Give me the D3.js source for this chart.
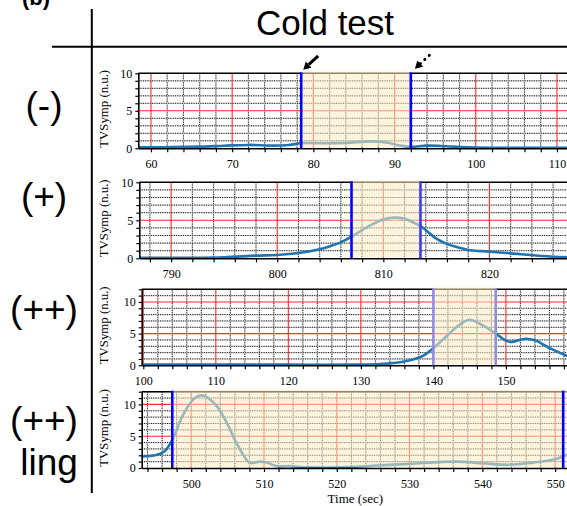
<!DOCTYPE html>
<html>
<head>
<meta charset="utf-8">
<script src="https://cdn.jsdelivr.net/npm/d3@7"></script>
<style>
  html, body { margin: 0; padding: 0; background: #fff; }
  svg { display: block; }
</style>
</head>
<body>
<svg id="fig" width="567" height="506"></svg>
<script>
// ---- data -------------------------------------------------------------
const figureTag = "(b)";
const titleText = "Cold test";
const rowLabels = [["(-)"], ["(+)"], ["(++)"], ["(++)", "ling"]];
const yLabel = "TVSymp (n.u.)";
const xLabel = "Time (sec)";

// (-) response
const noneTime  = [58.4, 62, 66, 69, 72, 75, 77, 78.5, 81, 84, 87, 89, 90.7, 92, 94, 96.4, 98, 100, 105, 111.6];
const noneValue = [0.12, 0.15, 0.22, 0.35, 0.45, 0.36, 0.45, 0.68, 0.68, 0.72, 0.92, 0.78, 0.36, 0.2, 0.36, 0.27, 0.18, 0.1, 0.08, 0.08];
const noneWindow = [58.44, 111.48];
const noneCues = [78.5, 92];

// (+) response
const plusTime  = [787, 792, 795, 798, 800, 802, 804, 805, 806, 807, 808, 809, 810, 811, 812, 813, 813.5, 815, 816, 817, 818, 820, 822, 825, 827.6];
const plusValue = [0.05, 0.07, 0.13, 0.35, 0.44, 0.7, 1.2, 1.6, 2.1, 2.85, 3.7, 4.5, 5.1, 5.35, 5.2, 4.6, 4.25, 2.6, 1.9, 1.45, 1.1, 0.88, 0.65, 0.3, 0.1];
const plusWindow = [787.0, 827.5];
const plusCues = [807, 813.5];

// (++) response
const strongTime  = [99.7, 110, 120, 130, 132, 134, 136.8, 138.4, 140, 141.8, 143.6, 145, 146.8, 148.6, 150, 150.9, 152.7, 154.1, 155.9, 158.8];
const strongValue = [0.1, 0.1, 0.1, 0.1, 0.15, 0.3, 0.8, 1.4, 2.7, 4.6, 6.4, 7.2, 6.3, 5.0, 3.9, 3.7, 4.2, 3.9, 2.8, 1.3];
const strongWindow = [99.78, 158.7];
const strongCues = [140, 148.6];

// (++) ling response
const lingTime  = [493.1, 495.2, 496.3, 497.4, 498.9, 500.5, 501.6, 503.4, 504.8, 506.1, 507.3, 508, 509.4, 510.4, 511.7, 513.5, 516.2, 520, 525, 530, 536.4, 540, 543.7, 546.9, 550.1, 552];
const lingValue = [1.8, 2.05, 2.6, 4.4, 8.4, 11.0, 11.4, 9.9, 7.3, 4.2, 1.8, 0.8, 1.0, 0.85, 0.3, 0.3, 0.1, 0.1, 0.35, 0.65, 1.0, 0.75, 0.5, 0.85, 1.4, 2.3];
const lingWindow = [493.2, 551.9];
const lingCues = [497.4, 551.1];

const yMaxes = [10, 10, 12, 12];
const yLabelTicks = [0, 5, 10];

// ---- drawing ----------------------------------------------------------
const svg = d3.select("#fig");
const sans = "'Liberation Sans', Arial, sans-serif";
const serif = "'Liberation Serif', 'Times New Roman', serif";

const series = [
  { time: noneTime,   value: noneValue,   win: noneWindow,   cues: noneCues,   shadeTo: noneCues[1] },
  { time: plusTime,   value: plusValue,   win: plusWindow,   cues: plusCues,   shadeTo: plusCues[1] },
  { time: strongTime, value: strongValue, win: strongWindow, cues: strongCues, shadeTo: strongCues[1] },
  { time: lingTime,   value: lingValue,   win: lingWindow,   cues: lingCues,   shadeTo: lingWindow[1] + 2 }
];
const frames = [
  { left: 138.3, top: 73.3,  bottom: 148.3 },
  { left: 139.3, top: 182.3, bottom: 258.3 },
  { left: 141.7, top: 289.3, bottom: 365.3 },
  { left: 141.7, top: 391.7, bottom: 468.0 }
];
const cueColors = [
  ["#0000ff", "#0000ff"],
  ["#0000ff", "#3c3cf2"],
  ["#908ce2", "#908ce2"],
  ["#0000ff", "#0000ff"]
];
const rightEdge = 569;

// figure tag, title and separators
svg.append("text").attr("x", 22).attr("y", 5)
  .attr("font-family", sans).attr("font-weight", "bold").attr("font-size", 22)
  .text(figureTag);
svg.append("text").attr("x", 325).attr("y", 34.5).attr("text-anchor", "middle")
  .attr("font-family", sans).attr("font-size", 35).text(titleText);
svg.append("line").attr("x1", 52).attr("x2", 567).attr("y1", 46.8).attr("y2", 46.8)
  .attr("stroke", "#000").attr("stroke-width", 2);
svg.append("line").attr("x1", 91.8).attr("x2", 91.8).attr("y1", 9).attr("y2", 493)
  .attr("stroke", "#000").attr("stroke-width", 2);

// row labels
const rowBase = [[117.5], [209], [322], [433, 475]];
const rowCx = [[44], [44], [44], [44, 49]];
rowLabels.forEach((lines, i) => {
  lines.forEach((t, j) => {
    svg.append("text").attr("x", rowCx[i][j]).attr("y", rowBase[i][j])
      .attr("text-anchor", "middle").attr("font-family", sans).attr("font-size", 37)
      .text(t);
  });
});

series.forEach((s, i) => {
  const f = frames[i];
  const yMax = yMaxes[i];
  const x = d3.scaleLinear().domain(s.win).range([f.left, rightEdge]);
  const y = d3.scaleLinear().domain([0, yMax]).range([f.bottom, f.top]);
  const g = svg.append("g");

  const clipId = "clip" + i;
  svg.append("clipPath").attr("id", clipId).append("rect")
    .attr("x", f.left).attr("y", f.top).attr("width", rightEdge - f.left).attr("height", f.bottom - f.top);

  const xMinor = d3.range(Math.ceil(s.win[0] / 2) * 2, s.win[1] + 0.01, 2);
  const xMajor = xMinor.filter(v => v % 10 === 0);
  const yMinor = d3.range(1, yMax + 0.01, 1).filter(v => v % 5 !== 0);
  const yMajor = d3.range(5, yMax + 0.01, 5);

  const grid = g.append("g").attr("clip-path", `url(#${clipId})`);
  // minor grid: faint solid line under a dotted black line
  xMinor.filter(v => v % 10 !== 0).forEach(v => {
    grid.append("line").attr("x1", x(v)).attr("x2", x(v)).attr("y1", f.top).attr("y2", f.bottom)
      .attr("stroke", "#cfcfcf").attr("stroke-width", 1.2);
    grid.append("line").attr("x1", x(v)).attr("x2", x(v)).attr("y1", f.top).attr("y2", f.bottom)
      .attr("stroke", "#111").attr("stroke-width", 1).attr("stroke-dasharray", "1,1.3");
  });
  yMinor.forEach(v => {
    grid.append("line").attr("x1", f.left).attr("x2", rightEdge).attr("y1", y(v)).attr("y2", y(v))
      .attr("stroke", "#cfcfcf").attr("stroke-width", 1.2);
    grid.append("line").attr("x1", f.left).attr("x2", rightEdge).attr("y1", y(v)).attr("y2", y(v))
      .attr("stroke", "#111").attr("stroke-width", 1).attr("stroke-dasharray", "1,1.3");
  });
  // major grid in red
  xMajor.forEach(v => {
    grid.append("line").attr("x1", x(v)).attr("x2", x(v)).attr("y1", f.top).attr("y2", f.bottom)
      .attr("stroke", "#ff2a2a").attr("stroke-width", 1.1);
  });
  yMajor.forEach(v => {
    grid.append("line").attr("x1", f.left).attr("x2", rightEdge).attr("y1", y(v)).attr("y2", y(v))
      .attr("stroke", "#ff2a2a").attr("stroke-width", 1.1);
  });

  // signal trace
  const line = d3.line().x((d, k) => x(s.time[k])).y(d => y(d)).curve(d3.curveCatmullRom.alpha(0.5));
  grid.append("path").datum(s.value).attr("d", line)
    .attr("fill", "none").attr("stroke", "#1f74b2").attr("stroke-width", 2.6)
    .attr("stroke-linejoin", "round");

  // axes
  const xAxis = d3.axisBottom(x).tickValues(xMinor).tickSize(4).tickSizeOuter(0).tickPadding(7)
    .tickFormat(v => (v % 10 === 0 ? v : ""));
  const ax = g.append("g").attr("transform", `translate(0,${f.bottom})`).call(xAxis);
  const yAxis = d3.axisLeft(y).tickValues(d3.range(0, yMax + 0.01, 1)).tickSize(3).tickSizeOuter(0).tickPadding(3)
    .tickFormat(v => (yLabelTicks.includes(v) ? v : ""));
  const ay = g.append("g").attr("transform", `translate(${f.left},0)`).call(yAxis);
  [ax, ay].forEach(a => {
    a.selectAll("text").attr("font-family", serif).attr("font-size", 12).attr("fill", "#000");
    a.selectAll("line").attr("stroke", "#000").attr("stroke-width", 1.2);
    a.select(".domain").attr("stroke", "#000").attr("stroke-width", 1.6);
  });
  g.append("line").attr("x1", f.left).attr("x2", rightEdge).attr("y1", f.top).attr("y2", f.top)
    .attr("stroke", "#000").attr("stroke-width", 1.6);

  // cold-exposure window overlay
  const x0 = x(s.cues[0]);
  const x1 = Math.min(x(s.shadeTo), rightEdge);
  g.append("rect").attr("x", x0).attr("y", f.top - 2).attr("width", x1 - x0).attr("height", f.bottom - f.top + 1)
    .attr("fill", "#fbecc2").attr("opacity", 0.56);

  // cue markers
  s.cues.forEach((c, k) => {
    g.append("line").attr("x1", x(c)).attr("x2", x(c)).attr("y1", f.top - 1).attr("y2", f.bottom)
      .attr("stroke", cueColors[i][k]).attr("stroke-width", 2.6);
  });

  // y label
  svg.append("text")
    .attr("transform", `translate(107.5,${(f.top + f.bottom) / 2 - 2}) rotate(-90)`)
    .attr("text-anchor", "middle").attr("font-family", serif).attr("font-size", 12.8)
    .text(yLabel);

  // onset / offset arrows over the first trace
  if (i === 0) {
    const drawArrow = (tipX, tipY, dotted) => {
      const dx = 15, dy = -14;
      const len = Math.hypot(dx, dy);
      const ux = dx / len, uy = dy / len;
      const headL = 7.5, headW = 4.2;
      const bx = tipX + ux * headL, by = tipY + uy * headL;
      const nx = -uy, ny = ux;
      svg.append("line").attr("x1", bx).attr("y1", by).attr("x2", tipX + dx).attr("y2", tipY + dy)
        .attr("stroke", "#000").attr("stroke-width", 3)
        .attr("stroke-linecap", dotted ? "round" : "butt")
        .attr("stroke-dasharray", dotted ? "0.1,6" : null);
      svg.append("path")
        .attr("d", `M${tipX},${tipY}L${bx + nx * headW},${by + ny * headW}L${bx - nx * headW},${by - ny * headW}Z`)
        .attr("fill", "#000");
    };
    drawArrow(x(s.cues[0]) + 2, f.top - 3.5, false);
    drawArrow(x(s.cues[1]) + 4, f.top - 4.5, true);
  }

  if (i === series.length - 1) {
    svg.append("text").attr("x", (f.left + rightEdge) / 2).attr("y", 503)
      .attr("text-anchor", "middle").attr("font-family", serif).attr("font-size", 13)
      .text(xLabel);
  }
});
</script>
</body>
</html>
